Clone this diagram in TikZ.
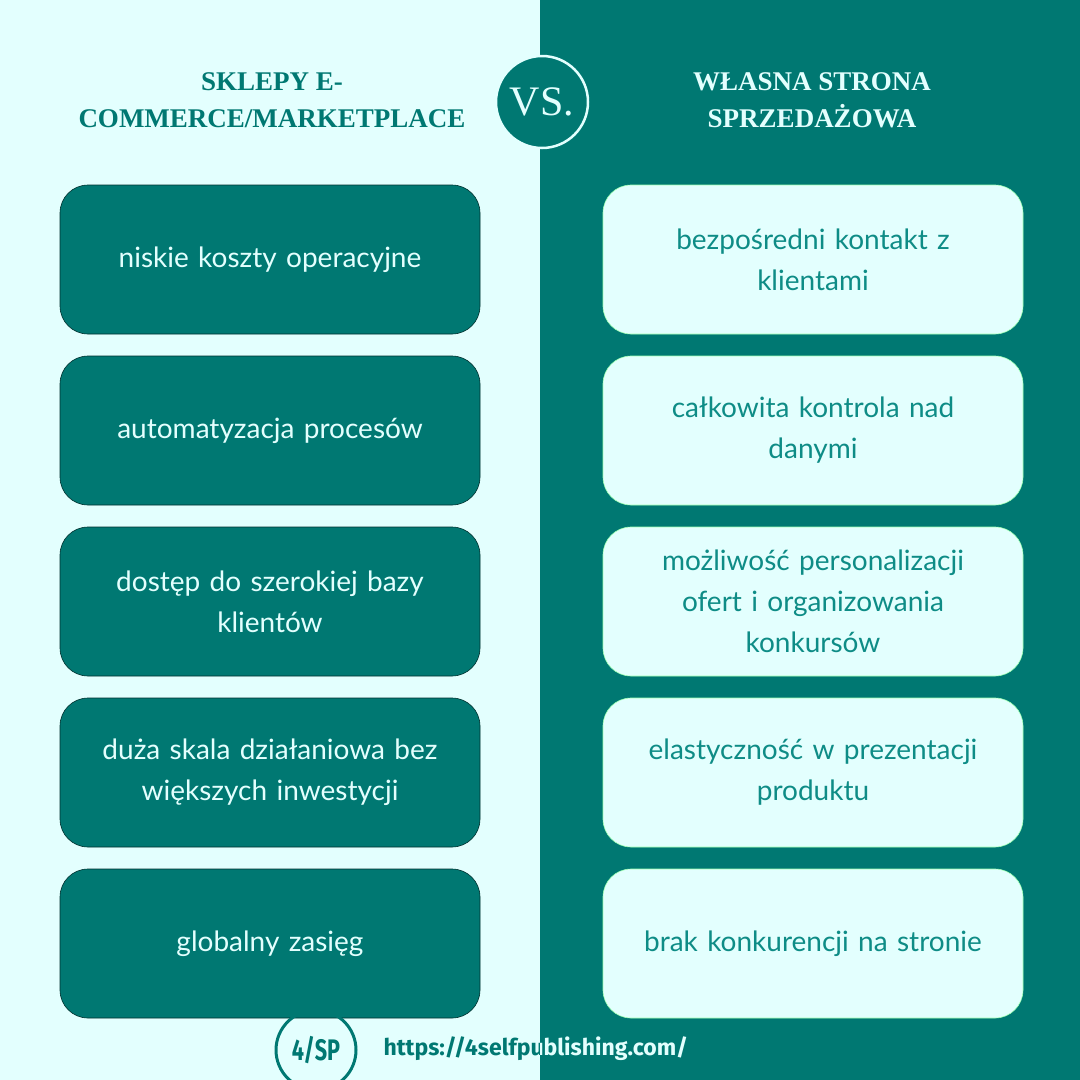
\documentclass[tikz,border=0pt]{standalone}
\usepackage{fontspec}
\setmainfont{Lato}
\newfontfamily\headfont{Liberation Serif}
\newfontfamily\urlfont{Fira Sans}
\definecolor{teal}{HTML}{007872}
\definecolor{pale}{HTML}{E3FFFE}
\definecolor{paletxt}{HTML}{0E8C86}
\tikzset{x=1pt,y=-1pt,
 lbox/.style={draw=black!60!teal,line width=0.6pt,fill=teal,rounded corners=28pt,minimum width=420pt,minimum height=149pt,text=pale,font=\fontsize{28}{41}\selectfont,text width=390pt,align=center},
 rbox/.style={draw=pale!70!green,line width=0.6pt,fill=pale,rounded corners=28pt,minimum width=420pt,minimum height=149pt,text=paletxt,font=\fontsize{28}{41}\selectfont,text width=390pt,align=center},
 head/.style={font=\headfont\bfseries\fontsize{27}{37}\selectfont,align=center}}
\begin{document}
\begin{tikzpicture}
\useasboundingbox (0,0) rectangle (1080,1080);
\fill[pale] (0,0) rectangle (540,1080);
\fill[teal] (540,0) rectangle (1080,1080);
\node[head,text=teal] (hl) at (272,100) {SKLEPY E-\\COMMERCE/MARKETPLACE};
\node[head,text=pale] (hr) at (812,100) {WŁASNA STRONA\\SPRZEDAŻOWA};
\node[circle,fill=teal,draw=pale,line width=2.5pt,minimum size=92pt,text=pale,font=\headfont\fontsize{42}{42}\selectfont] (vs) at (542,102) {VS.};
\foreach \y/\t [count=\i] in {259.5/niskie koszty operacyjne,430.5/automatyzacja procesów,601.5/{dostęp do szerokiej bazy\\klientów},772.5/{duża skala działaniowa bez\\większych inwestycji},943.5/globalny zasięg}
  \node[lbox] (l\i) at (270,\y) {\t};
\foreach \y/\t [count=\i] in {259.5/{bezpośredni kontakt z\\klientami},430.5/{całkowita kontrola nad\\danymi},601.5/{możliwość personalizacji\\ofert i organizowania\\konkursów},772.5/{elastyczność w prezentacji\\produktu},943.5/brak konkurencji na stronie}
  \node[rbox] (r\i) at (813,\y) {\t};
\node[circle,draw=teal,line width=3pt,minimum size=80pt,text=teal,font=\urlfont\bfseries\fontsize{27}{27}\selectfont] (logo) at (316,1050) {\scalebox{0.8}[1.1]{4/SP}};
\begin{scope}
\clip (0,1020) rectangle (540,1080);
\node[anchor=west,text=teal,font=\urlfont\bfseries\fontsize{23}{23}\selectfont] (url) at (380,1049) {https://4selfpublishing.com/};
\end{scope}
\begin{scope}
\clip (540,1020) rectangle (1080,1080);
\node[anchor=west,text=pale,font=\urlfont\bfseries\fontsize{23}{23}\selectfont] (url2) at (380,1049) {https://4selfpublishing.com/};
\end{scope}
\end{tikzpicture}
\end{document}
